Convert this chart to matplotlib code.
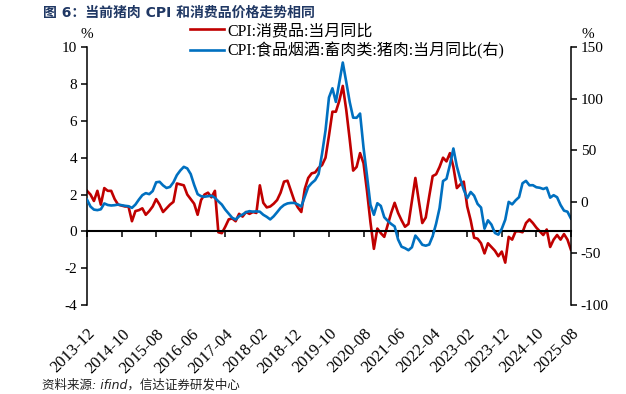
import matplotlib
matplotlib.use('Agg')
import matplotlib.pyplot as plt
import numpy as np
import pandas as pd

plt.rcParams['font.family'] = ['Liberation Serif', 'Noto Sans CJK SC']
plt.rcParams['axes.unicode_minus'] = False

# 月度数据 2013-12 ~ 2025-08
months = pd.period_range('2013-12', '2025-08', freq='M')

# CPI:消费品:当月同比 (%)
consumer_cpi = [
    2.2,
    2.0, 1.65, 2.2, 1.45, 2.35, 2.2, 2.2, 1.75, 1.45, 1.4, 1.35, 1.35,
    0.55, 1.1, 1.15, 1.25, 0.9, 1.1, 1.35, 1.75, 1.45, 1.05, 1.25, 1.45,
    1.6, 2.6, 2.55, 2.5, 2.0, 1.75, 1.5, 0.9, 1.7, 2.0, 2.1, 1.85,
    2.2, -0.05, -0.1, 0.25, 0.65, 0.7, 0.55, 0.95, 0.8, 1.05, 0.95, 1.05,
    1.0, 2.5, 1.55, 1.3, 1.35, 1.5, 1.7, 2.1, 2.7, 2.75, 2.2, 1.65,
    1.3, 1.05, 2.3, 2.9, 3.15, 3.2, 3.45, 3.6, 4.0, 5.2, 6.5, 6.5,
    7.1, 7.9, 6.6, 5.0, 3.3, 3.5, 4.25, 3.7, 2.2, 0.5, -0.95, 0.15,
    -0.1, -0.3, 0.35, 1.0, 1.55, 1.0, 0.6, 0.25, 0.4, 1.65, 2.9, 1.65,
    0.45, 0.75, 1.9, 3.0, 3.1, 3.5, 4.0, 3.8, 4.25, 3.5, 2.35, 2.55,
    2.7, 1.35, 0.6, -0.35, -0.4, -0.65, -1.2, -0.65, -0.85, -1.05, -1.35, -1.1,
    -1.7, -0.3, -0.45, 0.0, 0.0, -0.05, 0.45, 0.65, 0.45, 0.2, 0.0, -0.2,
    0.1, -0.85, -0.45, -0.2, -0.45, -0.15, -0.45, -1.0,
]

# CPI:食品烟酒:畜肉类:猪肉:当月同比 (%), 右轴
pork_cpi = [
    2.2,
    -4.5, -7.5, -8.0, -7.2, -1.5, -3.0, -3.5, -3.2, -2.6, -3.2, -3.8, -4.2,
    -5.8, -2.6, 2.2, 6.5, 8.5, 7.5, 10.5, 19.0, 19.5, 16.0, 13.5, 14.5,
    19.0, 26.0, 30.5, 34.0, 32.5, 27.0, 16.5, 7.5, 5.5, 5.0, 5.5, 6.0,
    4.0, 0.5, -2.6, -7.5, -11.5, -15.4, -17.1, -14.0, -12.3, -10.0, -9.0, -9.5,
    -9.2, -9.5, -12.5, -14.5, -17.0, -14.0, -10.0, -5.8, -3.0, -1.5, -1.0, -1.0,
    -2.5, -4.5, 5.1, 14.4, 18.2, 21.1, 27.0, 46.7, 69.3, 101.3, 110.2, 97.0,
    116.0, 135.2, 116.4, 96.9, 81.7, 81.6, 85.7, 52.6, 25.5, -2.8, -12.5, -1.3,
    -3.9, -14.9, -18.4, -21.4, -23.8, -36.5, -43.5, -44.9, -46.9, -44.0, -32.7, -36.7,
    -41.6, -42.5, -41.4, -33.3, -21.1, -6.0, 20.2, 22.4, 36.0, 51.8, 34.4, 22.2,
    11.8, 3.6, 9.6, 6.0, -2.0, -5.5, -26.0, -17.9, -22.0, -30.1, -31.8, -26.1,
    -17.3, 0.0, -2.4, 1.5, 4.6, 18.1, 20.4, 16.1, 16.2, 14.2, 13.7, 12.5,
    13.8, 4.1, 6.5, 4.5, -3.0, -8.5, -9.5, -16.1,
]

x = np.arange(len(months))
tick_pos = x[::10]
tick_labels = [p.strftime('%Y-%m') for p in months[::10]]

red = '#C00000'
blue = '#0070C0'

fig = plt.figure(figsize=(6.26, 3.94), dpi=100)
ax = fig.add_axes([0.139, 0.226, 0.773, 0.654])
ax2 = ax.twinx()

l1, = ax.plot(x, consumer_cpi, color=red, lw=1.9, label='CPI:消费品:当月同比')
l2, = ax2.plot(x, pork_cpi, color=blue, lw=1.9, label='CPI:食品烟酒:畜肉类:猪肉:当月同比(右)')

ax.set_xlim(0, len(months) - 1)
ax.set_ylim(-4, 10)
ax.set_yticks(range(-4, 11, 2))
ax2.set_ylim(-100, 150)
ax2.set_yticks(range(-100, 151, 50))

# 横轴放在0刻度处, 标签放在图底部
ax.spines['bottom'].set_position(('data', 0))
ax.set_xticks(tick_pos)
ax.set_xticklabels(tick_labels, rotation=45, ha='right', rotation_mode='anchor')
ax.tick_params(axis='x', direction='out', length=4, width=1.1, pad=64, labelsize=12)

for s in ['top', 'right']:
    ax.spines[s].set_visible(False)
for s in ['top', 'bottom', 'left']:
    ax2.spines[s].set_visible(False)
for s in [ax.spines['left'], ax2.spines['right']]:
    s.set_linewidth(1.1)
ax.spines['bottom'].set_linewidth(1.5)

ax.tick_params(axis='y', direction='out', length=4, width=1.1, labelsize=11, pad=3)
ax2.tick_params(axis='y', direction='out', length=4, width=1.1, labelsize=11, pad=3)

fig.text(87 / 626, 1 - 34 / 394, '%', fontsize=11, ha='center', va='center')
fig.text(588 / 626, 1 - 34 / 394, '%', fontsize=11, ha='center', va='center')

fig.legend(handles=[l1, l2], loc='upper left', bbox_to_anchor=(190 / 626, 1 - 23 / 394),
           frameon=False, fontsize=11.5, handlelength=2.1, handletextpad=0.25,
           labelspacing=0.2, borderaxespad=0, borderpad=0)

fig.text(43 / 626, 1 - 13 / 394, '图 6：当前猪肉 CPI 和消费品价格走势相同',
         fontsize=10, fontweight='bold', color='#203864', va='center',
         family=['DejaVu Sans', 'Noto Sans CJK SC'])
fig.text(42 / 626, 1 - 385 / 394, '资料来源: ifind，信达证券研发中心',
         fontsize=9, style='italic', color='#222222', va='center',
         family=['DejaVu Sans', 'Noto Sans CJK SC'])

fig.savefig('out.png', dpi=100)
